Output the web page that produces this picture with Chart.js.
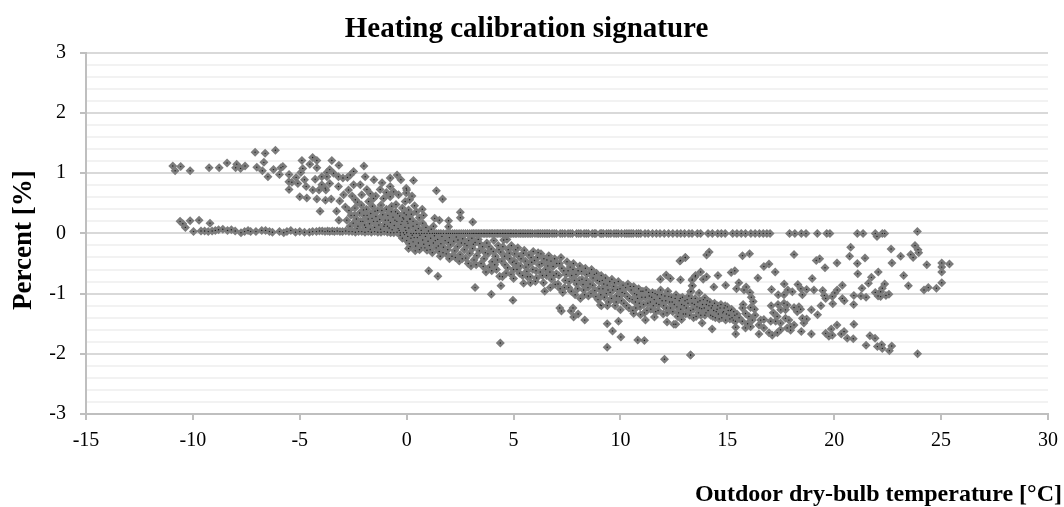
<!DOCTYPE html>
<html>
<head>
<meta charset="utf-8">
<title>Heating calibration signature</title>
<script src="https://cdn.jsdelivr.net/npm/chart.js@4"></script>
<style>
html, body { margin: 0; padding: 0; background: #fff; }
#wrap { width: 1064px; height: 507px; }
</style>
</head>
<body>
<div id="wrap"><canvas id="myChart" width="1064" height="507"></canvas></div>
<script>
// values, [temperature, percent]
const upperLeft = [[-10.94,1.12],[-10.83,1.04],[-10.57,1.11],[-10.13,1.04],[-9.24,1.09],[-8.77,1.09],[-8.4,1.17],[-7.95,1.15],[-8,1.09],[-7.77,1.08],[-7.56,1.12],
    [-7.09,1.35],[-6.62,1.33],[-6.14,1.38],[-6.68,1.18],[-7.01,1.1],[-6.75,1.04],[-6.49,0.94],[-6.23,1.06],[-5.95,0.98],[-5.79,1.11],[-5.88,1.09],
    [-5.5,0.98],[-5.51,0.86],[-5.37,0.85],[-5.5,0.73],[-5.17,0.93],[-5.09,0.83],[-4.9,1.21],[-4.86,1.08],[-4.95,1.01],[-4.78,0.89],[-4.7,0.78],[-5,0.61],[-4.67,0.59],
    [-4.4,1.26],[-4.53,1.15],[-4.2,1.21],[-4.2,1.09],[-4.39,0.72],[-4.2,0.57],[-4.1,0.72],[-3.78,0.72],[-3.8,0.55],[-3.53,0.57],[-4.05,0.37],[-3.28,0.37],
    [-3.5,1.21],[-3.17,1.13],[-3.6,1.06],[-3.73,1.01],[-3.42,1],[-3.19,0.94],[-2.98,0.92],[-2.77,0.93],[-2.48,1.03],[-2.64,0.97],[-2,1.12],[-1.94,0.94],[-1.53,0.89],
    [-4.28,0.9],[-3.97,0.94],[-3.73,0.94],[-3.97,0.81],[-3.6,0.83],[-3.19,0.78],[-3.81,0.75]];
const upperMiddle = [[-3.17,0.22],[-2.8,0.22],[-2.87,0.44],[-3.13,0.54],[-2.95,0.64],[-2.72,0.72],[-2.48,0.81],[-2.17,0.81],[-1.86,0.73],[-2.1,0.64],[-2.4,0.56],[-1.78,0.53],
    [-1.55,0.58],[-1.08,0.58],[-1.24,0.73],[-0.77,0.78],[-0.45,0.97],[-0.27,0.89],[-0.77,0.92],[-0.61,0.69],[-0.38,0.64],[-0.77,0.61],[-0.07,0.53],[0,0.72],[0.09,0.39],
    [-2.7,0.38],[-2.6,0.3],[-2.5,0.17],[-2.42,0.42],[-2.35,0.24],[-2.28,0.12],[-2.2,0.34],[-2.12,0.47],[-2.05,0.2],[-2,0.3],[-1.92,0.1],[-1.88,0.4],[-1.8,0.24],[-1.74,0.16],
    [-1.68,0.33],[-1.6,0.45],[-1.55,0.2],[-1.5,0.1],[-1.44,0.28],[-1.36,0.38],[-1.3,0.14],[-1.26,0.23],[-1.2,0.47],[-1.12,0.31],[-1.06,0.12],[-1,0.22],[-0.95,0.4],
    [-0.88,0.3],[-0.82,0.09],[-0.76,0.18],[-0.7,0.45],[-0.64,0.27],[-0.58,0.13],[-0.52,0.36],[-0.46,0.2],[-0.4,0.08],[-0.33,0.29],[-0.27,0.15],[-0.2,0.42],[-0.14,0.24],
    [-0.08,0.1],[-0.02,0.31],[0.06,0.17],[0.14,0.24],[0.17,0.24],[-0.18,0.26],[0.59,0.26],[0.73,0.4],[0.79,0.3],[0.32,0.88],[-0.02,0.75],[-0.02,0.67],[0.14,0.56],[0.37,0.46],
    [1.39,0.71],[1.68,0.57],[2.51,0.35],[2.51,0.26],[3.09,0.19],[1.96,0.21],[1.96,0.11],[1.31,0.25],[1.53,0.22],[0.3,0.12],[0.55,0.08],[0.9,0.1],[1.15,0.07],
    [-2.3,0.52],[-1.45,0.62],[-1.15,0.84],[-0.95,0.68],[-1.7,0.66],[-2.55,0.62],[-0.5,0.48],[0.25,0.62],[0.45,0.36]];
const denseLeft = [[-2.65,0.12],[-2.45,0.3],[-2.32,0.08],[-2.15,0.2],[-2.02,0.39],[-1.97,0.14],[-1.85,0.3],[-1.7,0.07],[-1.62,0.25],[-1.48,0.37],[-1.38,0.2],[-1.22,0.07],[-1.16,0.38],[-1.03,0.15],
    [-0.9,0.12],[-0.86,0.22],[-0.72,0.36],[-0.68,0.06],[-0.55,0.22],[-0.42,0.33],[-0.35,0.05],[-0.22,0.2],[-0.12,0.34],[-0.04,0.05],[0.02,0.2],[0.1,0.09],[0.22,0.32],[0.3,0.2],[0.42,0.05],[0.48,0.15],
    [0.68,0.05],[0.75,0.17],[1.02,0.04],[1.25,0.12]];
const lowerLeft = [[-10.6,0.2],[-10.47,0.16],[-10.35,0.1],[-9.97,0.03],[-10.13,0.21],[-9.71,0.22],[-9.2,0.17]];
const zeroLeft = [[-9.62,0.04],[-9.45,0.04],[-9.28,0.03],[-9.1,0.04],[-8.95,0.05],[-8.8,0.06],[-8.6,0.07],[-8.38,0.05],[-8.2,0.06],[-8.02,0.04],[-7.75,0.01],[-7.58,0.03],
    [-7.42,0.05],[-7.3,0.03],[-7.05,0.03],[-6.78,0.05],[-6.6,0.05],[-6.42,0.03],[-6.28,0.02],[-5.95,0.03],[-5.75,0.01],[-5.6,0.03],[-5.42,0.05],[-5.2,0.02],[-5,0.03],
    [-4.78,0.02],[-4.55,0.02],[-4.4,0.03],[-4.22,0.03],[-4.08,0.04],[-3.95,0.04],[-3.82,0.03],[-3.7,0.04],[-3.6,0.03],[-3.48,0.04],[-3.38,0.03],[-3.25,0.04],[-3.12,0.03],
    [-3,0.03],[-2.85,0.04],[-2.7,0.03],[-2.55,0.03],[-2.4,0.02],[-2.25,0.03],[-2.1,0.03],[-1.95,0.02],[-1.8,0.03],[-1.65,0.02],[-1.5,0.03],[-1.35,0.02],[-1.2,0.02],[-1.05,0.03],
    [-0.9,0.02],[-0.75,0.01],[-0.6,0.01],[-0.45,0.02],[-0.3,0.01],[-0.15,0.01],[0,0.01]];
const zeroRight = [[0.2,0],[0.45,0],[0.7,0],[0.95,0],[1.2,0],[1.4,0],[1.6,0],[1.85,0],[2.05,0],[2.25,0],[2.45,0],[2.65,0],[2.85,0],[3.05,0],[3.2,0],[3.35,0],[3.5,0],[3.65,0],[3.8,0],[3.95,0],
    [4.1,0],[4.25,0],[4.4,0],[4.55,0],[4.7,0],[4.85,0],[5,0],[5.15,0],[5.25,0],[5.4,0],[5.55,0],[5.72,0],[5.88,0],[6,0],[6.18,0],[6.35,0],[6.52,0],[6.68,0],[6.8,0],[7,0],
    [7.18,0],[7.4,0],[7.55,0],[7.75,0],[7.95,0],[8.15,0],[8.3,0],[8.5,0],[8.68,0],[8.85,0],[9.05,0],[9.2,0],[9.35,0],[9.55,0],[9.7,0],[9.9,0],[10.05,0],[10.2,0],[10.4,0],[10.6,0],
    [10.75,0],[10.95,0],[11.15,0],[11.3,0],[11.5,0],[11.68,0],[11.85,0],[12.05,0],[12.25,0],[12.45,0],[12.65,0],[12.82,0],[13,0],[13.2,0],[13.35,0],[13.6,0],[13.75,0],[14.1,0],
    [14.3,0],[14.55,0],[14.72,0],[14.9,0],[15.25,0],[15.45,0],[15.65,0],[15.85,0],[16.1,0],[16.3,0],[16.5,0],[16.68,0],[16.85,0],[17,0],
    [17.91,0],[18.16,0],[18.46,0],[18.68,0],[19.21,0],[19.65,0],[19.8,0],[21.08,0],[21.35,0],[21.92,0],[22.25,0],[22.36,0],[22,-0.05],[23.89,0.03]];
const zeroFill = [[0.32,0],[0.58,0],[0.82,0],[1.08,0],[1.3,0],[1.5,0],[1.72,0],[1.95,0],[2.15,0],[2.35,0],[2.55,0],[2.75,0],[2.95,0],[3.12,0],[3.28,0],[3.43,0],[3.58,0],[3.72,0],[3.88,0],[4.02,0],[4.18,0],[4.32,0],[4.48,0],[4.62,0],[4.78,0],
    [4.92,0],[5.08,0],[5.32,0],[5.48,0],[5.64,0],[5.8,0],[6.1,0],[6.26,0],[6.44,0],[6.6,0],[6.9,0],[7.28,0],[7.65,0],[8.05,0],[8.4,0],[8.78,0],[9.12,0],[9.45,0],[9.8,0],[10.3,0],[10.5,0],[10.85,0]];
const bandStart = [[-0.3,-0.03],[-0.2,-0.08],[-0.1,-0.02],[0,-0.12],[0.05,-0.05],[0.09,-0.25],[0.12,-0.17],[0.2,-0.08],[0.26,-0.03],[0.3,-0.14],[0.4,-0.29],[0.42,-0.21],[0.5,-0.07],[0.55,-0.16],
    [0.62,-0.03],[0.68,-0.24],[0.75,-0.11],[0.8,-0.18],[0.88,-0.05],[0.95,-0.28],[1,-0.13],[1.06,-0.2],[1.12,-0.08],[1.2,-0.32],[1.25,-0.16],[1.3,-0.04],[1.38,-0.24],[1.45,-0.1],[1.57,-0.38],[1.52,-0.3],
    [1.6,-0.17],[1.65,-0.05],[1.72,-0.23],[1.8,-0.12],[1.85,-0.34],[1.92,-0.27],[2,-0.07],[2.05,-0.19],[2.12,-0.38],[2.2,-0.13],[2.25,-0.29],[2.32,-0.06],[2.38,-0.22],[2.46,-0.46],[2.5,-0.35],[2.56,-0.16],
    [2.62,-0.09],[2.7,-0.27],[2.76,-0.41],[2.82,-0.2],[2.9,-0.12],[2.95,-0.33],[3.01,-0.54],[3.08,-0.25],[3.15,-0.44],[3.2,-0.15],[3.28,-0.37],[3.35,-0.1],[3.4,-0.29],[3.48,-0.5],[3.55,-0.22],[3.62,-0.42],
    [3.71,-0.64],[3.75,-0.16],[3.8,-0.34],[3.88,-0.56],[3.95,-0.26],[4,-0.47],[4.08,-0.12],[4.15,-0.38],[4.2,-0.6],[4.28,-0.2],[4.35,-0.71],[4.4,-0.31],[4.48,-0.72],[4.54,-0.11],[4.6,-0.52],[4.69,-0.1],[4.75,-0.27],[4.82,-0.42],[4.9,-0.2],[5,-0.75],[5,-0.6]];
const bandStartFill = [[0.16,-0.22],[0.35,-0.07],[0.6,-0.27],[0.85,-0.24],[1.1,-0.27],[1.34,-0.12],[1.48,-0.21],[1.7,-0.32],[1.95,-0.15],[2,-0.42],[2.28,-0.4],[2.4,-0.11],[2.6,-0.42],[2.72,-0.17],[2.88,-0.5],[3.05,-0.08],[3.12,-0.18],
    [3.25,-0.52],[3.42,-0.17],[3.58,-0.55],[3.68,-0.32],[3.85,-0.22],[3.98,-0.62],[4.05,-0.3],[4.12,-0.52],[4.25,-0.44],[4.32,-0.27],[4.45,-0.46],[4.5,-0.22],[4.58,-0.38],[4.65,-0.66],[4.72,-0.57],[4.8,-0.33],[4.88,-0.68],[4.95,-0.48]];
const bandMiddle = [[5.05,-0.34],[5.12,-0.5],[5.2,-0.24],[5.28,-0.66],[5.35,-0.42],[5.47,-0.83],[5.5,-0.28],[5.58,-0.56],[5.65,-0.72],[5.72,-0.36],[5.79,-0.82],[5.85,-0.48],[5.92,-0.3],[6.02,-0.8],[6.05,-0.62],
    [6.12,-0.4],[6.2,-0.52],[6.28,-0.34],[6.35,-0.7],[6.46,-0.96],[6.5,-0.6],[6.56,-0.44],[6.65,-0.37],[6.72,-0.9],[6.78,-0.76],[6.85,-0.55],[6.92,-0.42],[7,-0.67],[7.08,-0.84],[7.15,-0.5],[7.22,-0.4],
    [7.3,-0.98],[7.35,-0.62],[7.42,-0.78],[7.5,-0.47],[7.58,-0.9],[7.65,-0.56],[7.72,-0.7],[7.8,-0.5],[7.88,-1.02],[7.95,-0.84],[8.02,-0.62],[8.1,-0.54],[8.13,-1.08],[8.2,-0.76],[8.28,-0.94],[8.36,-0.58],
    [8.42,-0.68],[8.5,-1.04],[8.58,-0.84],[8.65,-0.6],[8.72,-0.74],[8.8,-0.95],[8.88,-0.66],[8.95,-1.1],[9.02,-0.8],[9.06,-1.19],[9.1,-0.7],[9.18,-0.92],[9.25,-1.06],[9.3,-0.74],[9.38,-0.86],[9.45,-1.14],
    [9.52,-0.98],[9.6,-0.76],[9.68,-0.88],[9.75,-1.2],[9.82,-1.04],[9.9,-0.8],[9.98,-0.92]];
const bandMiddleFill = [[5.02,-0.46],[5.1,-0.27],[5.16,-0.6],[5.25,-0.38],[5.32,-0.54],[5.42,-0.7],[5.46,-0.33],[5.55,-0.46],[5.62,-0.63],[5.7,-0.52],[5.78,-0.72],[5.82,-0.4],[5.9,-0.6],[5.98,-0.45],[6.08,-0.74],[6.15,-0.32],[6.25,-0.64],
    [6.32,-0.5],[6.4,-0.82],[6.42,-0.42],[6.54,-0.7],[6.6,-0.54],[6.7,-0.64],[6.75,-0.46],[6.88,-0.7],[6.95,-0.85],[7.02,-0.5],[7.12,-0.7],[7.18,-0.92],[7.26,-0.58],[7.38,-0.9],[7.46,-0.68],[7.55,-0.62],[7.6,-0.8],[7.7,-0.96],
    [7.78,-0.6],[7.85,-0.78],[7.92,-0.68],[8,-0.92],[8.07,-0.78],[8.18,-0.63],[8.25,-0.85],[8.32,-1.02],[8.4,-0.78],[8.48,-0.9],[8.55,-0.66],[8.62,-1],[8.7,-0.86],[8.78,-0.68],[8.85,-1.05],[8.92,-0.78],[9,-0.92],[9.08,-1.02],
    [9.15,-0.78],[9.22,-0.84],[9.34,-1],[9.42,-0.94],[9.5,-0.8],[9.58,-1.08],[9.64,-0.94],[9.72,-0.82],[9.8,-1.14],[9.86,-0.93],[9.95,-1.05]];
const bandEnd = [[10,-1.27],[10.05,-1.12],[10.12,-0.86],[10.2,-1],[10.28,-1.2],[10.35,-0.84],[10.42,-1.08],[10.5,-0.94],[10.58,-1.28],[10.62,-0.88],[10.7,-1.14],[10.76,-1.02],[10.85,-0.92],[10.92,-1.22],
    [11,-1.06],[11.05,-0.96],[11.12,-1.32],[11.2,-0.94],[11.28,-1.16],[11.35,-1.04],[11.42,-1.26],[11.5,-0.98],[11.58,-1.1],[11.65,-1.3],[11.72,-1.02],[11.8,-1.18],[11.88,-0.94],[11.95,-1.12],[12,-1.34],
    [12.08,-1.04],[12.15,-1.24],[12.22,-0.96],[12.3,-1.14],[12.38,-1.06],[12.45,-1.3],[12.52,-1.18],[12.6,-1.02],[12.68,-1.38],[12.75,-1.12],[12.82,-1.26],[12.9,-1.06],[12.98,-1.2],[13.05,-1.34],[13.12,-1.1],
    [13.2,-1.04],[13.28,-1.28],[13.35,-1.16],[13.42,-1.4],[13.5,-1.08],[13.58,-1.22],[13.65,-1.32],[13.72,-1.12],[13.8,-1.25],[13.88,-1.1],[13.95,-1.36],[14.02,-1.18],[14.1,-1.28],[14.18,-1.14],[14.25,-1.24],
    [14.32,-1.38],[14.4,-1.16],[14.48,-1.3],[14.55,-1.2],[14.62,-1.42],[14.7,-1.18],[14.78,-1.32],[14.85,-1.24],[14.92,-1.44],[15,-1.22],[15.08,-1.36],[15.15,-1.28],[15.22,-1.4],[15.3,-1.3],[15.38,-1.46],[15.45,-1.34]];
const bandEndFill = [[10.08,-0.98],[10.16,-1.16],[10.24,-0.9],[10.32,-1.05],[10.4,-1.24],[10.46,-0.88],[10.55,-1.1],[10.66,-1],[10.72,-1.24],[10.8,-1.08],[10.88,-1.16],[10.96,-0.96],[11.08,-1.18],[11.16,-1.06],[11.24,-1.28],[11.32,-0.98],
    [11.4,-1.14],[11.46,-1.06],[11.54,-1.2],[11.62,-1],[11.68,-1.16],[11.76,-1.28],[11.84,-1.08],[11.92,-1.02],[12.02,-1.2],[12.12,-1.12],[12.18,-1.32],[12.26,-1.05],[12.34,-1.24],[12.42,-1.14],[12.56,-1.08],[12.64,-1.22],[12.72,-1.32],
    [12.8,-1.08],[12.86,-1.18],[12.94,-1.34],[13.02,-1.12],[13.08,-1.24],[13.16,-1.16],[13.24,-1.36],[13.32,-1.08],[13.4,-1.26],[13.46,-1.18],[13.54,-1.38],[13.62,-1.14],[13.7,-1.24],[13.76,-1.36],[13.84,-1.18],[13.92,-1.24],[14,-1.32],
    [14.06,-1.12],[14.14,-1.2],[14.22,-1.36],[14.3,-1.2],[14.36,-1.28],[14.44,-1.4],[14.52,-1.26],[14.58,-1.34],[14.66,-1.24],[14.74,-1.4],[14.82,-1.3],[14.9,-1.2],[14.96,-1.34],[15.04,-1.28],[15.12,-1.42],[15.2,-1.26],[15.28,-1.44],[15.35,-1.36]];
const outliers = [[1.03,-0.62],[1.46,-0.71],[3.2,-0.9],[4.41,-0.87],[3.96,-1.01],[4.97,-1.11],[4.38,-1.82],[7.16,-1.24],[7.24,-1.29],[7.69,-1.29],[7.78,-1.24],[7.81,-1.39],[8.02,-1.34],[8.33,-1.44],
    [9.38,-1.5],[9.91,-1.46],[9.63,-1.62],[10.02,-1.72],[9.38,-1.89],[10.81,-1.77],[11.12,-1.78],[12.06,-2.09],[13.28,-2.02],[11.59,-1.39],[12.18,-1.47],[12.5,-1.51],[12.59,-1.51],[12.86,-1.43],
    [12.78,-0.46],[13.04,-0.4],[11.87,-0.76],[12.14,-0.69],[12.34,-0.75],[12.81,-0.77],[13.5,-0.72],[13.35,-0.78],[13.35,-0.87],[13.28,-0.97],[11.17,-1.44],[10.62,-1.33],[10.94,-1.35],[9.11,-1.2],[9.39,-1.2]];
const rightUpper = [[13.03,-0.4],[12.81,-0.45],[14.03,-0.36],[14.15,-0.31],[15.71,-0.37],[16.04,-0.34],[18.12,-0.35],[19.16,-0.45],[19.32,-0.42],[19.57,-0.57],[20.13,-0.49],[20.77,-0.23],[20.72,-0.38],[21.08,-0.5],[21.44,-0.41],
    [22.66,-0.26],[22.7,-0.49],[23.11,-0.38],[23.78,-0.2],[23.92,-0.27],[23.95,-0.32],[23.58,-0.35],[23.69,-0.4],[24.33,-0.52],[25.03,-0.49],[25.39,-0.51],[25.03,-0.56],[25.03,-0.64],[23.25,-0.7],[23.47,-0.87],[25.03,-0.82],
    [24.78,-0.91],[24.4,-0.9],[24.2,-0.94],[21.1,-0.67],[22.06,-0.64],[21.74,-0.73],[21.6,-0.83],[22.36,-0.84],[22.25,-0.91],[22.17,-0.97],[21.92,-0.98],[22.05,-1.04],[22.17,-1.05],[22.42,-1.03],[22.56,-1.01],[21.3,-0.91],
    [21.25,-1.04],[21.49,-1.06],[20.92,-1.03],[20.91,-1.18],[20.38,-0.86],[20.14,-0.94],[20.03,-0.99],[19.91,-1.05],[19.93,-1.17],[20.38,-1.08],[20.47,-1.12],[19.46,-0.95],[19.54,-1.03],[19.6,-1.08],[19.38,-1.2],[18.93,-1.27],
    [19.22,-1.35],[18.97,-0.75],[18.3,-0.85],[18.44,-0.92],[18.51,-1.02],[18.71,-0.93],[19.05,-0.94],[18.04,-0.97],[17.83,-0.94],[17.66,-0.84],[17.65,-1.02],[17.38,-1.02],[17.07,-0.93],[16.43,-0.74],[17.24,-0.64],[16.71,-0.55],
    [16.95,-0.51],[15.18,-0.65],[15.35,-0.62],[13.75,-0.64],[13.51,-0.7],[13.36,-0.76],[14.03,-0.72],[13.87,-0.76],[14.56,-0.7],[14.37,-0.89],[14.92,-0.86],[13.37,-0.87],[13.31,-0.96],[13.68,-0.99],[13.95,-1.07],[15.54,-0.82],
    [15.43,-0.92],[15.78,-0.94],[15.88,-0.89],[16.06,-0.98],[16.12,-1.06],[16.21,-1.13]];
const rightLower = [[15.74,-1.18],[15.71,-1.24],[16.09,-1.23],[16.27,-1.26],[17.05,-1.2],[17.37,-1.18],[17.65,-1.16],[17.8,-1.19],[18.12,-1.23],[18.35,-1.22],[18.43,-1.26],[18.27,-1.3],[17.15,-1.32],[17.5,-1.27],[17.72,-1.27],
    [17.33,-1.38],[17.03,-1.46],[17.26,-1.46],[17.72,-1.41],[17.88,-1.44],[17.49,-1.49],[18.51,-1.41],[18.71,-1.42],[18.58,-1.49],[18.12,-1.52],[17.96,-1.55],[17.8,-1.57],[17.49,-1.6],[17.34,-1.65],[17.1,-1.69],[16.95,-1.65],
    [16.71,-1.57],[16.56,-1.44],[16.71,-1.43],[16.48,-1.52],[16.48,-1.67],[18.46,-1.63],[18.93,-1.67],[17.96,-1.61],[16.09,-1.55],[15.85,-1.57],[16.17,-1.44],[16.01,-1.38],[15.85,-1.33],[15.7,-1.46],[15.39,-1.56],[15.39,-1.67],
    [14.29,-1.59],[13.82,-1.49],[15.55,-1.4],[15.95,-1.5],[16.3,-1.36],
    [20.92,-1.51],[20.13,-1.52],[19.86,-1.59],[19.6,-1.66],[19.75,-1.71],[19.91,-1.69],[20.33,-1.67],[20.46,-1.63],[20.61,-1.74],[20.89,-1.75],[21.67,-1.7],[21.91,-1.74],[21.49,-1.86],[22.02,-1.88],[22.22,-1.85],[22.25,-1.91],
    [22.69,-1.87],[22.58,-1.95],[23.9,-2],[13.28,-2.02]];

const yTicksMajor = [-3, -2, -1, 0, 1, 2, 3];
const xTicks = [-15, -10, -5, 0, 5, 10, 15, 20, 25, 30];

const allPoints = [].concat(upperLeft, upperMiddle, denseLeft, lowerLeft, zeroLeft, zeroRight, zeroFill, bandStart, bandStartFill, bandMiddle, bandMiddleFill, bandEnd, bandEndFill, outliers, rightUpper, rightLower)
    .map(function (p) { return { x: p[0], y: p[1] }; });

const serif = '"Liberation Serif", "Times New Roman", serif';

function isMajor(value) {
    return yTicksMajor.indexOf(Math.round(value * 10) / 10) !== -1;
}

// the title sits a little left of the canvas centre
const shiftTitle = {
    id: 'shiftTitle',
    afterLayout: function (chart) {
        chart.titleBlock.right -= 11;
    }
};

new Chart(document.getElementById('myChart').getContext('2d'), {
    type: 'scatter',
    plugins: [shiftTitle],
    data: {
        datasets: [
            {
                // dark centre of each marker
                label: 'centre',
                data: allPoints,
                pointStyle: 'circle',
                radius: 0.7,
                backgroundColor: '#222222',
                borderWidth: 0
            },
            {
                label: 'Percent',
                data: allPoints,
                pointStyle: 'rectRot',
                radius: 4.5,
                backgroundColor: '#7c7c7c',
                borderWidth: 0
            }
        ]
    },
    options: {
        responsive: false,
        animation: false,
        layout: { padding: { left: 2, right: 2, top: 0, bottom: 0 } },
        plugins: {
            legend: { display: false },
            tooltip: { enabled: false },
            title: {
                display: true,
                text: 'Heating calibration signature',
                color: '#000',
                font: { family: serif, size: 29, weight: 'bold' },
                padding: { top: 12, bottom: 6 }
            },
            subtitle: {
                display: true,
                position: 'bottom',
                align: 'end',
                text: 'Outdoor dry-bulb temperature [°C]',
                color: '#000',
                font: { family: serif, size: 24, weight: 'bold', lineHeight: 1 },
                padding: { top: 0, bottom: 0 }
            }
        },
        scales: {
            x: {
                type: 'linear',
                min: -15,
                max: 30,
                grid: { drawOnChartArea: false, color: '#bfbfbf', lineWidth: 2, tickLength: 6 },
                border: { color: '#bfbfbf', width: 2 },
                afterBuildTicks: function (axis) {
                    axis.ticks = xTicks.map(function (v) { return { value: v }; });
                },
                afterFit: function (axis) {
                    axis.paddingRight = 16;
                    axis.paddingLeft = 0;
                    axis.height = 69;
                },
                ticks: {
                    color: '#000',
                    maxRotation: 0,
                    padding: 9,
                    font: { family: serif, size: 20 }
                }
            },
            y: {
                type: 'linear',
                min: -3,
                max: 3,
                afterFit: function (axis) {
                    axis.width = 84;
                },
                title: {
                    display: true,
                    text: 'Percent [%]\u00a0\u00a0',
                    color: '#000',
                    font: { family: serif, size: 27, weight: 'bold' },
                    padding: { top: 6, bottom: 0 }
                },
                border: { color: '#bfbfbf', width: 2 },
                grid: {
                    color: function (ctx) {
                        return isMajor(ctx.tick.value) ? '#d9d9d9' : '#f2f2f2';
                    },
                    lineWidth: 2,
                    tickColor: function (ctx) {
                        return isMajor(ctx.tick.value) ? '#bfbfbf' : 'rgba(0,0,0,0)';
                    },
                    tickLength: 6
                },
                ticks: {
                    stepSize: 0.2,
                    autoSkip: false,
                    color: '#000',
                    padding: 14,
                    font: { family: serif, size: 20 },
                    callback: function (value) {
                        return isMajor(value) ? Math.round(value) : '';
                    }
                }
            }
        }
    }
});
</script>
</body>
</html>
